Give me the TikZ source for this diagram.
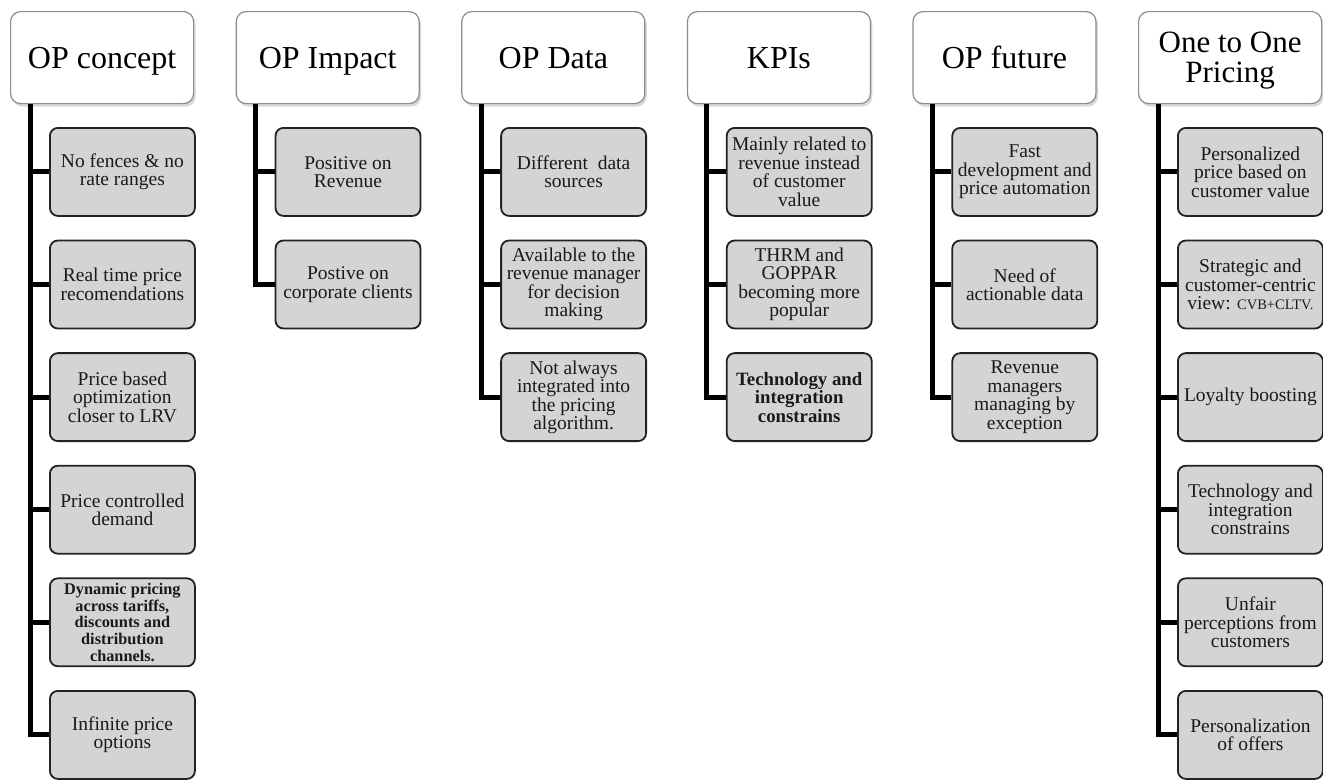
\documentclass[tikz,border=0pt]{standalone}
\usepackage{fontspec}
\setmainfont{Liberation Serif}
\usetikzlibrary{shadows}
\definecolor{boxgray}{HTML}{D4D4D4}
\definecolor{boxline}{HTML}{222222}
\definecolor{headline}{HTML}{8C8C8C}
\definecolor{txt}{HTML}{1A1A1A}
\begin{document}
\begin{tikzpicture}[x=1pt,y=-1pt,
  headbase/.style={draw=headline, fill=white, rounded corners=10pt, line width=1.2pt,
    minimum width=183pt, minimum height=92pt, anchor=north west, align=center,
    inner sep=2pt, font=\fontsize{32}{27}\selectfont,
    drop shadow={shadow xshift=2pt, shadow yshift=-3pt, opacity=0.3, fill=gray}},
  head/.style={headbase, text height=22pt, text depth=0pt},
  headtwo/.style={headbase, text depth=0pt, font=\fontsize{31}{30}\selectfont},
  item/.style={draw=boxline, fill=boxgray, rounded corners=8pt, line width=1.8pt,
    minimum width=145pt, minimum height=88pt, anchor=north west, align=center,
    inner sep=1pt, text=txt, font=\fontsize{19.5}{18.5}\selectfont},
  bolditem/.style={item, font=\fontsize{18.8}{18.5}\selectfont\bfseries},
  smallbold/.style={item, font=\fontsize{16.3}{16.7}\selectfont\bfseries},
  conn/.style={draw=black, line width=5pt}
]
\useasboundingbox (0,0) rectangle (1323,780);
\fill[white] (0,0) rectangle (1323,780);

% headers
\node[head] (h0) at (10,11) {OP concept};
\node[head] (h1) at (235.6,11) {OP Impact};
\node[head] (h2) at (461.2,11) {OP Data};
\node[head] (h3) at (686.8,11) {KPIs};
\node[head] (h4) at (912.4,11) {OP future};
\node[headtwo] (h5) at (1138,11) {One to One\\Pricing};

% column 0
\node[item] (c0-1) at (49,127) {No fences \& no\\rate ranges};
\node[item] (c0-2) at (49,239.6) {Real time price\\recomendations};
\node[item] (c0-3) at (49,352.2) {Price based\\optimization\\closer to LRV};
\node[item] (c0-4) at (49,464.8) {Price controlled\\demand};
\node[smallbold] (c0-5) at (49,577.4) {Dynamic pricing\\across tariffs,\\discounts and\\distribution\\channels.};
\node[item] (c0-6) at (49,690) {Infinite price\\options};

% column 1
\node[item] (c1-1) at (274.6,127) {Positive on\\Revenue};
\node[item] (c1-2) at (274.6,239.6) {Postive on\\corporate clients};

% column 2
\node[item] (c2-1) at (500.2,127) {Different\ \ data\\sources};
\node[item] (c2-2) at (500.2,239.6) {Available to the\\revenue manager\\for decision\\making};
\node[item] (c2-3) at (500.2,352.2) {Not always\\integrated into\\the pricing\\algorithm.};

% column 3
\node[item] (c3-1) at (725.8,127) {Mainly related to\\revenue instead\\of customer\\value};
\node[item] (c3-2) at (725.8,239.6) {THRM and\\GOPPAR\\becoming more\\popular};
\node[bolditem] (c3-3) at (725.8,352.2) {Technology and\\integration\\constrains};

% column 4
\node[item] (c4-1) at (951.4,127) {Fast\\development and\\price automation};
\node[item] (c4-2) at (951.4,239.6) {Need of\\actionable data};
\node[item] (c4-3) at (951.4,352.2) {Revenue\\managers\\managing by\\exception};

% column 5
\node[item] (c5-1) at (1177,127) {Personalized\\price based on\\customer value};
\node[item] (c5-2) at (1177,239.6) {Strategic and\\customer-centric\\view: {\fontsize{14.5}{18.5}\selectfont CVB+CLTV.}};
\node[item] (c5-3) at (1177,352.2) {Loyalty boosting};
\node[item] (c5-4) at (1177,464.8) {Technology and\\integration\\constrains};
\node[item] (c5-5) at (1177,577.4) {Unfair\\perceptions from\\customers};
\node[item] (c5-6) at (1177,690) {Personalization\\of offers};

% connectors
\foreach \c/\n in {0/6,1/2,2/3,3/3,4/3,5/6}{
  \foreach \i in {1,...,\n}{
    \draw[conn] ([xshift=20pt]h\c.south west) |- (c\c-\i.west);
  }
}
\end{tikzpicture}
\end{document}
